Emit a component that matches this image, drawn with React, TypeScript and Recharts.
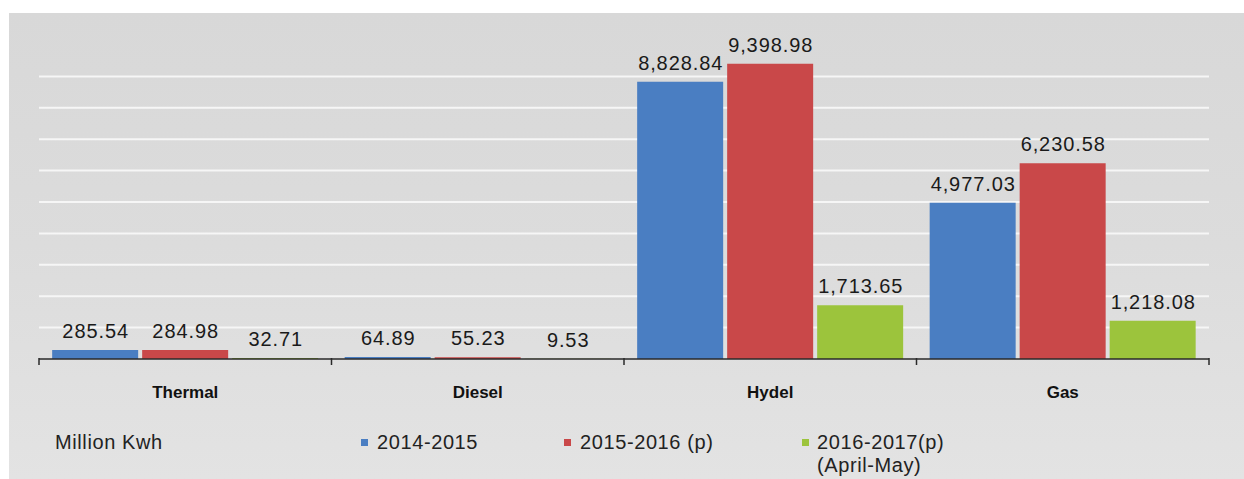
import { BarChart, Bar, XAxis, YAxis, CartesianGrid, LabelList } from "recharts";

const categories = ["Thermal", "Diesel", "Hydel", "Gas"];
const series2014 = [285.54, 64.89, 8828.84, 4977.03];
const series2015 = [284.98, 55.23, 9398.98, 6230.58];
const series2016 = [32.71, 9.53, 1713.65, 1218.08];
const seriesNames = ["2014-2015", "2015-2016 (p)", "2016-2017(p)"];
const seriesSubNames = ["", "", "(April-May)"];
const gridValues = [1000, 2000, 3000, 4000, 5000, 6000, 7000, 8000, 9000];
const unitLabel = "Million Kwh";

const COLORS = ["#4a7ec2", "#c94849", "#9cc43c"];
const FONT = "'Liberation Sans', Arial, sans-serif";

const data = categories.map((name, i) => ({
  name,
  s2014: series2014[i],
  s2015: series2015[i],
  s2016: series2016[i],
}));

const fmt = (v: number) =>
  v.toLocaleString("en-US", { minimumFractionDigits: 2, maximumFractionDigits: 2 });

const ValueLabel = (props: any) => {
  const { x, y, width, value } = props;
  return (
    <text
      x={Number(x) + Number(width) / 2 + 0.5}
      y={Number(y) - 12}
      textAnchor="middle"
      fontSize={20}
      letterSpacing={0.9}
      fontFamily={FONT}
      fill="#1a1a1a"
    >
      {fmt(Number(value))}
    </text>
  );
};

const CategoryTick = (props: any) => {
  const { x, y, payload, index } = props;
  const half = payload.offset ?? 146.25;
  const last = index === categories.length - 1;
  return (
    <g>
      <line x1={x - half} y1={y - 1} x2={x - half} y2={y + 6} stroke="#2a2a2a" strokeWidth={1.5} />
      {last && (
        <line x1={x + half} y1={y - 1} x2={x + half} y2={y + 6} stroke="#2a2a2a" strokeWidth={1.5} />
      )}
      <text x={x} y={y + 39} textAnchor="middle" fontSize={17} fontWeight="bold" fontFamily={FONT} fill="#111">
        {payload.value}
      </text>
    </g>
  );
};

// legend layout (square x, text x)
const legendPos = [
  { sq: 361, tx: 377 },
  { sq: 564, tx: 580 },
  { sq: 802, tx: 817 },
];

export default function App() {
  return (
    <div
      style={{
        position: "absolute",
        left: 0,
        top: 0,
        width: 1244,
        height: 479,
        background: "#ffffff",
        overflow: "hidden",
      }}
    >
      <div
        style={{
          position: "absolute",
          left: 9,
          top: 13,
          width: 1235,
          height: 466,
          background: "linear-gradient(#d8d8d8, #dcdcdc 50%, #e3e3e3)",
        }}
      />
      <div style={{ position: "absolute", left: 0, top: 0 }}>
        <BarChart
          width={1244}
          height={479}
          data={data}
          margin={{ top: 45, right: 35, bottom: 80, left: 39 }}
          barCategoryGap="4.5%"
          barGap={4}
        >
          <CartesianGrid vertical={false} horizontalValues={gridValues} stroke="#f6f6f6" strokeWidth={2} />
          <YAxis hide domain={[0, 10000]} ticks={gridValues} />
          <XAxis
            dataKey="name"
            height={40}
            tickSize={0}
            tickMargin={0}
            axisLine={{ stroke: "#2a2a2a", strokeWidth: 1.5 }}
            tickLine={false}
            tick={<CategoryTick />}
            interval={0}
          />
          <Bar dataKey="s2014" fill={COLORS[0]} isAnimationActive={false}>
            <LabelList dataKey="s2014" content={<ValueLabel />} />
          </Bar>
          <Bar dataKey="s2015" fill={COLORS[1]} isAnimationActive={false}>
            <LabelList dataKey="s2015" content={<ValueLabel />} />
          </Bar>
          <Bar dataKey="s2016" fill={COLORS[2]} isAnimationActive={false}>
            <LabelList dataKey="s2016" content={<ValueLabel />} />
          </Bar>
        </BarChart>
      </div>
      <svg
        width={1244}
        height={479}
        style={{ position: "absolute", left: 0, top: 0, pointerEvents: "none" }}
      >
        <text x={55} y={449} fontSize={20} letterSpacing={0.6} fontFamily={FONT} fill="#222">
          {unitLabel}
        </text>
        {seriesNames.map((name, i) => (
          <g key={name}>
            <rect x={legendPos[i].sq} y={439} width={7} height={7} fill={COLORS[i]} />
            <text x={legendPos[i].tx} y={449} fontSize={20} letterSpacing={0.6} fontFamily={FONT} fill="#222">
              {name}
            </text>
            {seriesSubNames[i] && (
              <text x={legendPos[i].tx} y={472} fontSize={20} letterSpacing={0.6} fontFamily={FONT} fill="#222">
                {seriesSubNames[i]}
              </text>
            )}
          </g>
        ))}
      </svg>
    </div>
  );
}
